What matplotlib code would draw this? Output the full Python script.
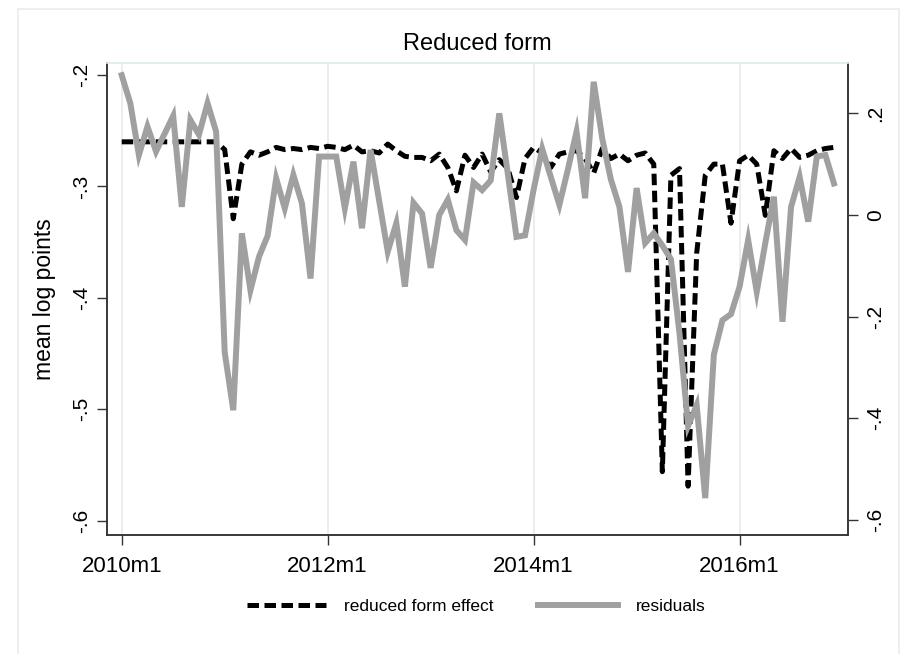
import numpy as np
import matplotlib
matplotlib.use("Agg")
import matplotlib.pyplot as plt
from matplotlib.patches import Rectangle

plt.rcParams["font.family"] = ["Liberation Sans", "DejaVu Sans"]

# ---- monthly series, 2010m1 .. 2016m12 ----
effect = [-0.26] * 12 + [
    -0.267, -0.329, -0.28, -0.269, -0.272, -0.269, -0.265, -0.267, -0.266, -0.267, -0.265, -0.266,
    -0.264, -0.265, -0.267, -0.263, -0.269, -0.268, -0.27, -0.262, -0.268, -0.273, -0.274, -0.274,
    -0.277, -0.271, -0.283, -0.304, -0.272, -0.283, -0.271, -0.287, -0.276, -0.284, -0.31, -0.275,
    -0.265, -0.27, -0.283, -0.271, -0.269, -0.268, -0.275, -0.288, -0.266, -0.275, -0.271, -0.277,
    -0.272, -0.27, -0.28, -0.556, -0.29, -0.284, -0.569, -0.36, -0.29, -0.28, -0.28, -0.333,
    -0.277, -0.272, -0.28, -0.326, -0.268, -0.275, -0.266, -0.274, -0.272, -0.268, -0.266, -0.265,
]
residuals = [
    0.275, 0.22, 0.118, 0.174, 0.125, 0.16, 0.195, 0.016, 0.187, 0.158, 0.22, 0.164,
    -0.27, -0.384, -0.036, -0.148, -0.082, -0.041, 0.072, 0.013, 0.079, 0.023, -0.125, 0.115,
    0.115, 0.115, 0.013, 0.105, -0.026, 0.128, 0.028, -0.072, -0.016, -0.141, 0.024, 0.003,
    -0.104, 0.0, 0.03, -0.03, -0.049, 0.064, 0.049, 0.068, 0.2, 0.08, -0.043, -0.04,
    0.05, 0.13, 0.075, 0.02, 0.09, 0.164, 0.033, 0.262, 0.15, 0.07, 0.016, -0.112,
    0.053, -0.055, -0.036, -0.06, -0.087, -0.233, -0.415, -0.374, -0.557, -0.275, -0.207, -0.195,
    -0.141, -0.049, -0.151, -0.055, 0.036, -0.21, 0.016, 0.075, -0.013, 0.115, 0.118, 0.062,
]
xtick_labels = ["2010m1", "2012m1", "2014m1", "2016m1"]
left_ticks = [-0.6, -0.5, -0.4, -0.3, -0.2]
left_labels = ["-.6", "-.5", "-.4", "-.3", "-.2"]
right_ticks = [-0.6, -0.4, -0.2, 0.0, 0.2]
right_labels = ["-.6", "-.4", "-.2", "0", ".2"]

months = np.arange(len(effect))
grid_c = "#e3ecee"
gray = "#a0a0a0"

fig = plt.figure(figsize=(9.17, 6.54), dpi=100)
fig.patches.append(Rectangle((18 / 917, -0.01), 881 / 917, 1 - 9 / 654 + 0.01,
                             transform=fig.transFigure, fill=False,
                             edgecolor="#e6eef0", lw=1.2))
ax = fig.add_axes([107.3 / 917, 1 - 535 / 654, 740.4 / 917, 472.3 / 654])
ax2 = ax.twinx()

ax.plot(months, effect, color="black", lw=3.6, dashes=(2.3, 1.1),
        solid_capstyle="butt", dash_capstyle="butt", label="reduced form effect")
ax2.plot(months, residuals, color=gray, lw=4.3, solid_joinstyle="miter",
         label="residuals")

ax.set_xlim(-1.68, 84.6)
ax.set_ylim(-0.6128, -0.189)
ax2.set_ylim(-0.6295, 0.2996)

ax.set_xticks([0, 24, 48, 72])
ax.set_xticklabels(xtick_labels, fontsize=16)
for t in [0, 24, 48, 72]:
    ax.axvline(t, color=grid_c, lw=1.2, zorder=0)

ax.set_yticks(left_ticks)
ax.set_yticklabels(left_labels, fontsize=15, rotation=90, va="center")
ax2.set_yticks(right_ticks)
ax2.set_yticklabels(right_labels, fontsize=15, rotation=90, va="center")

for a in (ax, ax2):
    a.tick_params(length=7, width=1, color="#333333", pad=6)
    for s in ("left", "right", "bottom"):
        a.spines[s].set_color("#333333")
        a.spines[s].set_linewidth(1.1)
    a.spines["top"].set_color(grid_c)
    a.spines["top"].set_linewidth(1.2)
ax.tick_params(axis="x", pad=8)
ax.tick_params(axis="y", pad=5)

ax.set_ylabel("mean log points", fontsize=16.5, labelpad=11)
ax.set_title("Reduced form", fontsize=17, pad=9)

h1, l1 = ax.get_legend_handles_labels()
h2, l2 = ax2.get_legend_handles_labels()
fig.legend(h1 + h2, l1 + l2, loc="center", bbox_to_anchor=(476 / 917, 1 - 606 / 654),
           ncol=2, frameon=False, fontsize=12.5, handlelength=4.6, columnspacing=2.6,
           handletextpad=1.0)

fig.savefig("out.png", dpi=100)
